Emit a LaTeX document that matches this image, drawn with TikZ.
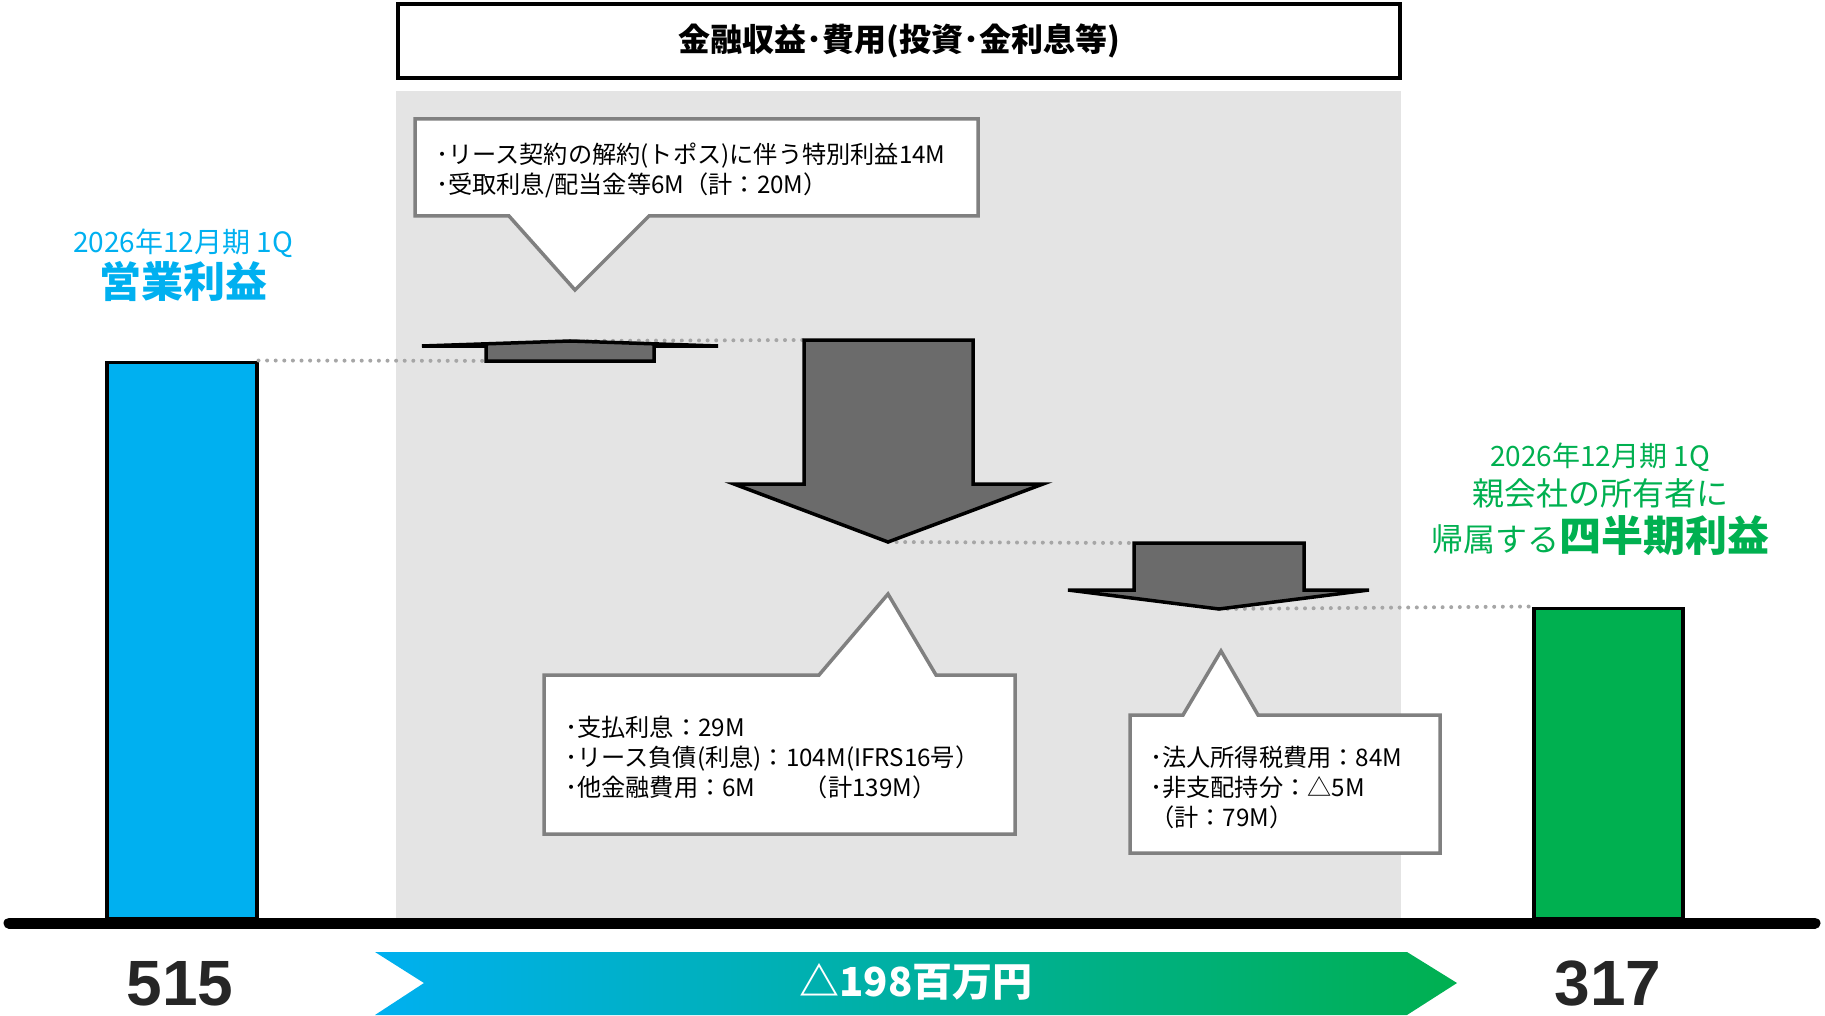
\documentclass[tikz,border=0pt]{standalone}
\usepackage{fontspec}
\setmainfont{Noto Sans CJK JP}
\newfontfamily\numfont{Liberation Sans}
\usetikzlibrary{positioning,calc}
\definecolor{opblue}{HTML}{00B0F0}
\definecolor{opgreen}{HTML}{00B050}
\definecolor{panelgray}{HTML}{E4E4E4}
\definecolor{arrowgray}{HTML}{6B6B6B}
\definecolor{calloutgray}{HTML}{808080}
\definecolor{dotgray}{HTML}{A6A6A6}
\definecolor{numgray}{HTML}{262626}

\tikzset{
	bar/.style={draw=black, line width=3.5pt, anchor=south west, inner sep=0pt},
	stepdrop/.style={fill=arrowgray, draw=black, line width=3.5pt, line join=miter},
	callout/.style={fill=white, draw=calloutgray, line width=3.5pt},
	guide/.style={dotgray, line width=4pt, line cap=round, dash pattern=on 0pt off 8.6pt},
	note/.style={anchor=west, align=left, inner sep=0pt, font=\fontsize{24.2}{30}\selectfont},
	total/.style={numgray, inner sep=0pt, font=\numfont\bfseries\fontsize{64}{64}\selectfont},
}

\begin{document}
\begin{tikzpicture}[x=1pt, y=-1pt]
		\useasboundingbox (0,0) rectangle (1825,1016);

		%coordinates
		\coordinate (gainbase) at (570,361);
		\coordinate (gaintip)  at (570,341);
		\coordinate (costtop)  at (804,340);
		\coordinate (costtip)  at (888,542);
		\coordinate (taxtop)   at (1134,543);
		\coordinate (taxtip)   at (1219,609);
		\coordinate (axisL)    at (9,923);
		\coordinate (axisR)    at (1815,923);

		%panel
		\fill[panelgray] (396,91) rectangle (1401,919);
		\node[draw, line width=4pt, fill=white, minimum width=1002pt, minimum height=74pt, font=\bfseries\fontsize{32}{32}\selectfont] (title) at (899,41) {金融収益･費用(投資･金利息等)};

		%bars
		\node[bar, fill=opblue, minimum width=150pt, minimum height=556pt] (opbar) at (105,920) {};
		\node[bar, fill=opgreen, minimum width=149pt, minimum height=310pt] (netbar) at (1532,920) {};

		%guides
		\draw[guide] (opbar.north east) -- (gainbase);
		\draw[guide] (gaintip) -- (costtop);
		\draw[guide] (costtip) -- (taxtop);
		\draw[guide] (taxtip) -- (netbar.north west);

		%steps
		\draw[stepdrop] (486,361) -- (486,346) -- (422,346) -- (gaintip) -- (718,346) -- (654,346) -- (654,361) -- cycle;
		\draw[stepdrop] (costtop) -- (973,340) -- (973,484) -- (1043,484) -- (costtip) -- (734,484) -- (804,484) -- cycle;
		\draw[stepdrop] (taxtop) -- (1304,543) -- (1304,590) -- (1369,590) -- (taxtip) -- (1068,590) -- (1134,590) -- cycle;

		%callouts
		\draw[callout] (415,119) -- (978,119) -- (978,216) -- (649,216) -- (575,290) -- (509,216) -- (415,216) -- cycle;
		\draw[callout] (544,675) -- (819,675) -- (888,594) -- (936,675) -- (1015,675) -- (1015,834) -- (544,834) -- cycle;
		\draw[callout] (1130,715) -- (1183,715) -- (1221,651) -- (1258,715) -- (1440,715) -- (1440,853) -- (1130,853) -- cycle;

		\node[note] (gainnote) at (436,170) {･リース契約の解約(トポス)に伴う特別利益14M\\･受取利息/配当金等6M（計：20M）};
		\node[note] (costnote) at (565,757) {･支払利息：29M\\･リース負債(利息)：104M(IFRS16号）\\･他金融費用：6M\quad\quad（計139M）};
		\node[note] (taxnote) at (1150,787) {･法人所得税費用：84M\\･非支配持分：△5M\\（計：79M）};

		%axis
		\draw[line width=11pt, line cap=round] (axisL) -- (axisR);

		%labels
		\node[opblue, font=\fontsize{28}{28}\selectfont] (opyear) at (183,243) {2026年12月期 1Q};
		\node[opblue, font=\bfseries\fontsize{42}{42}\selectfont, below=-3pt of opyear] (oplabel) {営業利益};
		\node[opgreen, font=\fontsize{28}{28}\selectfont] (netyear) at (1600,457) {2026年12月期 1Q};
		\node[opgreen, font=\fontsize{32}{32}\selectfont, below=0pt of netyear] (netowner) {親会社の所有者に};
		\node[opgreen, font=\fontsize{32}{32}\selectfont, below=0pt of netowner] (netlabel) {帰属する{\bfseries\fontsize{42}{42}\selectfont 四半期利益}};

		%totals
		\node[total] (opval) at (180,984) {515};
		\node[total] (netval) at (1608,984) {317};
		\shade[left color=opblue, right color=opgreen] (375,952) -- (1407,952) -- (1457,983) -- (1407,1015) -- (375,1015) -- (424,983) -- cycle;
		\node[white, font=\bfseries\fontsize{40}{40}\selectfont] (delta) at (916,982) {△198百万円};
\end{tikzpicture}
\end{document}
